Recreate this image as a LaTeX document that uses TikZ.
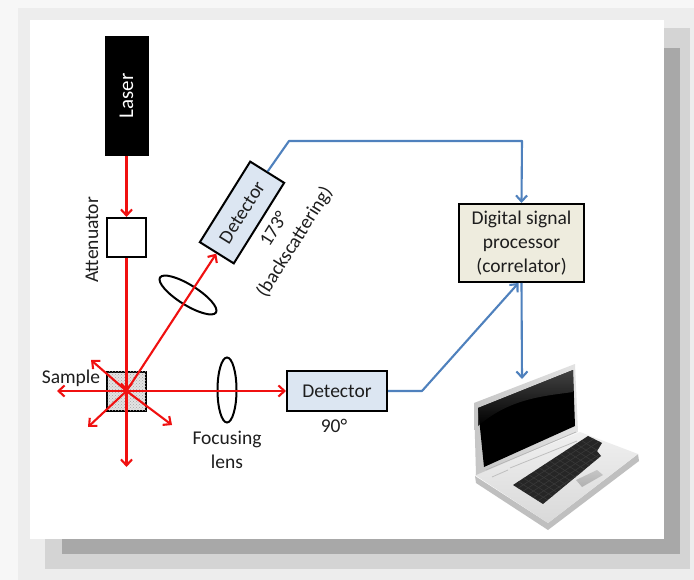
\documentclass[tikz,border=0pt]{standalone}
\usepackage{fontspec}
\setmainfont{Carlito}
\usetikzlibrary{arrows.meta,patterns,calc}
\definecolor{beam}{RGB}{240,16,16}
\definecolor{wire}{RGB}{79,129,189}
\definecolor{detfill}{RGB}{220,230,242}
\definecolor{dspfill}{RGB}{238,236,222}
\definecolor{ink}{RGB}{30,30,30}
\begin{document}
\begin{tikzpicture}[x=1pt,y=-1pt,
  every node/.style={font=\fontsize{19.5}{24}\selectfont, text=ink},
  box/.style={draw=black, line width=2pt, inner sep=0pt},
  ray/.style={draw=beam, line width=2.1pt, -{Straight Barb[length=6pt,width=11pt]}},
  link/.style={draw=wire, line width=2.1pt, line join=round, -{Straight Barb[length=6pt,width=11pt]}},
  lens/.style={draw=black, line width=2pt}]
\useasboundingbox (0,0) rectangle (694,580);

% card with drop shadow
\fill[white!97!black] (0,0) rectangle (694,580);
\fill[white!93!black] (18,8) rectangle (694,580);
\fill[white!83!black] (45,28) rectangle (690,569);
\fill[white!66!black] (62,48) rectangle (680,554);
\fill[white] (30,20) rectangle (664,539);

% source and attenuator
\node[box, fill=black, rotate=90, minimum width=118, minimum height=42,
      font=\fontsize{21}{24}\selectfont, text=white] (laser) at (126.5,96) {Laser};
\node[box, fill=white, minimum size=39] (att) at (126.5,237.5) {};
\node[rotate=90] (attlbl) at (92,240) {Attenuator};

% sample cell
\node[box, fill=gray!22, minimum size=39] (sample) at (126.5,391) {};
\fill[pattern=crosshatch dots, pattern color=gray!70]
  ([shift={(1,-1)}]sample.south west) rectangle ([shift={(-1,1)}]sample.north east);
\node (samplelbl) at (71,378) {Sample};

% detectors and processor
\node[box, fill=detfill, rotate=58, minimum width=95, minimum height=40] (det173) at (242,212.5) {Detector};
\node[rotate=58, align=center] (lbl173) at (285,236) {173°\\(backscattering)};
\node[box, fill=detfill, minimum width=100, minimum height=40] (det90) at (337,391) {Detector};
\node (lbl90) at (334,426) {90°};
\node[box, fill=dspfill, minimum width=125, minimum height=78, align=center] (dsp) at (521.5,243)
  {Digital signal\\processor\\(correlator)};

% lenses
\draw[lens, rotate around={-32:(188,295)}] (188,295) ellipse [x radius=33, y radius=10];
\draw[lens] (227,390) ellipse [x radius=9.5, y radius=32.5];
\node[align=center] (focuslbl) at (227,450) {Focusing\\lens};

% beam paths
\coordinate (c) at (sample.center);
\coordinate (sW) at (57,391);
\coordinate (sS) at (126.5,467);
\coordinate (sNW) at (91,360);
\coordinate (sSW) at (88,427);
\coordinate (sSE) at (172,425);
\draw[ray] (laser.west) -- (att.north);
\draw[ray] (att.south) -- (c);
\draw[ray] (c) -- (sW);
\draw[ray] (c) -- (sS);
\draw[ray] (c) -- (sNW);
\draw[ray] (c) -- (sSW);
\draw[ray] (c) -- (sSE);
\draw[ray] (c) -- (det90.west);
\draw[ray] (c) -- (det173.west);

% signal wiring
\coordinate (k1) at (289,141);
\coordinate (k2) at (522,141);
\coordinate (k3) at (422,391);
\coordinate (pc) at (522,379);
\draw[link] (det173.east) -- (k1) -- (k2) -- (dsp.north);
\draw[link] (det90.east) -- (k3) -- ([xshift=-3pt]dsp.south);
\draw[link] (dsp.south) -- (pc);

% laptop
\begin{scope}[line join=round]
  % base slab
  \fill[gray!50] (475,476) -- (476,483) -- (548,530) -- (639,461) -- (638,454) -- (548,523) -- cycle;
  \shade[top color=gray!12, bottom color=gray!30] (475,475) -- (580,432) -- (638,454) -- (548,523) -- cycle;
  % lid
  \shade[left color=gray!45, right color=gray!22] (474,403) -- (575,364) -- (578,432) -- (476,475) -- cycle;
  \fill[black] (478,408) -- (573,370) -- (575,426) -- (484,467) -- cycle;
  \shade[top color=gray!65!black, bottom color=black, opacity=0.8]
    (478,408) -- (573,370) -- (573,392) .. controls (545,396) and (510,398) .. (478,426) -- cycle;
  % hinge strip and button row
  \draw[gray!60, line width=0.6pt] (486,470) -- (576,432);
  \draw[gray!50, line width=0.8pt] (510,468) -- (577,441);
  \draw[gray!50, line width=0.8pt] (492,477) -- (508,470);
  % keyboard
  \fill[gray!30!black] (513,485) -- (588,436) -- (602,443) -- (597,451) -- (601,456) -- (543,504) -- cycle;
  \begin{scope}
    \clip (513,485) -- (588,436) -- (602,443) -- (597,451) -- (601,456) -- (543,504) -- cycle;
    \foreach \t in {0.17,0.33,0.5,0.67,0.83}
      \draw[gray!45!black, line width=0.6pt] ($(513,485)!\t!(543,504)$) -- ++(95,-62);
    \foreach \s in {0.07,0.14,...,0.95}
      \draw[gray!45!black, line width=0.6pt] ($(513,485)!\s!(588,436)$) -- ++(32,20);
  \end{scope}
  % touchpad
  \shade[top color=gray!45, bottom color=gray!62] (576,480) -- (597,470) -- (603,475) -- (582,487) -- cycle;
\end{scope}
\end{tikzpicture}
\end{document}
